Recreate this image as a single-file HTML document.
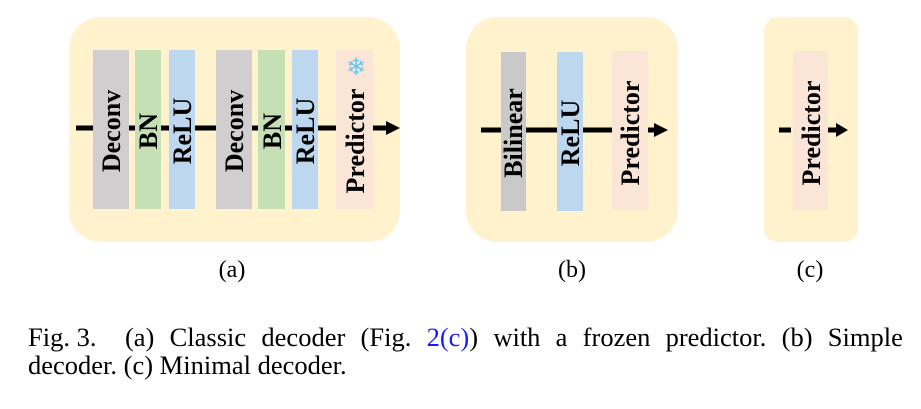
<!DOCTYPE html>
<html><head><meta charset="utf-8"><style>
body{margin:0;background:#fff;width:921px;height:404px;overflow:hidden;position:relative}
svg text{font-family:"Liberation Serif",serif}
.lb{font-weight:bold;font-size:26px;fill:#000}
.cap{position:absolute;left:28px;width:875px;font-family:"Liberation Serif",serif;font-size:26.5px;line-height:30px;color:#000;white-space:nowrap}
</style></head><body>
<svg width="921" height="404">
<g>
<rect x="69" y="17" width="331" height="225" rx="32" fill="#fff2cc"/>
<line x1="76" y1="128" x2="388" y2="128" stroke="#000" stroke-width="5"/>
<path d="M386,121 L400,128 L386,135Z" fill="#000"/>
<rect x="93" y="50" width="36" height="159" fill="#d0cece"/>
<rect x="135" y="50" width="26" height="159" fill="#c5e0b4"/>
<rect x="169" y="50" width="26" height="159" fill="#bdd7ee"/>
<rect x="216" y="50" width="36" height="159" fill="#d0cece"/>
<rect x="258" y="50" width="27" height="159" fill="#c5e0b4"/>
<rect x="292" y="50" width="26" height="159" fill="#bdd7ee"/>
<rect x="336" y="50" width="37" height="159" fill="#fbe5d6"/>
<text class="lb" transform="translate(120,131) rotate(-90)" text-anchor="middle">Deconv</text>
<text class="lb" transform="translate(157,131) rotate(-90)" text-anchor="middle">BN</text>
<text class="lb" transform="translate(191,131) rotate(-90)" text-anchor="middle">ReLU</text>
<text class="lb" transform="translate(243,131) rotate(-90)" text-anchor="middle">Deconv</text>
<text class="lb" transform="translate(281,131) rotate(-90)" text-anchor="middle">BN</text>
<text class="lb" transform="translate(314,131) rotate(-90)" text-anchor="middle">ReLU</text>
<text class="lb" transform="translate(364,141) rotate(-90)" text-anchor="middle">Predictor</text>
<text x="356" y="75" font-size="24" fill="#6ec6f0" text-anchor="middle" style="font-family:'DejaVu Sans',sans-serif">❄</text>
<text x="232" y="277" font-size="24" text-anchor="middle">(a)</text>
</g>
<g>
<rect x="466" y="17" width="212" height="225" rx="32" fill="#fff2cc"/>
<line x1="481" y1="130" x2="656" y2="130" stroke="#000" stroke-width="5"/>
<path d="M654,123 L668,130 L654,137Z" fill="#000"/>
<rect x="501" y="52" width="25" height="159" fill="#c9c9c9"/>
<rect x="557" y="52" width="26" height="159" fill="#bdd7ee"/>
<rect x="612" y="51" width="36" height="159" fill="#fbe5d6"/>
<text class="lb" transform="translate(522,133) rotate(-90)" text-anchor="middle">Bilinear</text>
<text class="lb" transform="translate(579,133) rotate(-90)" text-anchor="middle">ReLU</text>
<text class="lb" transform="translate(639,133) rotate(-90)" text-anchor="middle">Predictor</text>
<text x="572" y="277" font-size="24" text-anchor="middle">(b)</text>
</g>
<g>
<rect x="764" y="17" width="94" height="225" rx="14" fill="#fff2cc"/>
<rect x="793" y="51" width="35" height="159" fill="#fbe5d6"/>
<line x1="779" y1="130" x2="791" y2="130" stroke="#000" stroke-width="5"/>
<line x1="828" y1="130" x2="838" y2="130" stroke="#000" stroke-width="5"/>
<path d="M836,123 L848,130 L836,137Z" fill="#000"/>
<text class="lb" transform="translate(820,133) rotate(-90)" text-anchor="middle">Predictor</text>
<text x="810" y="277" font-size="24" text-anchor="middle">(c)</text>
</g>
</svg>
<div class="cap" style="top:322px;display:flex;justify-content:space-between"><span>Fig. 3.&nbsp;&nbsp;</span><span>(a)</span><span>Classic</span><span>decoder</span><span>(Fig.</span><span><span style="color:#1a1aff">2(c)</span>)</span><span>with</span><span>a</span><span>frozen</span><span>predictor.</span><span>(b)</span><span>Simple</span></div>
<div class="cap" style="top:350px">decoder. (c) Minimal decoder.</div>
</body></html>
